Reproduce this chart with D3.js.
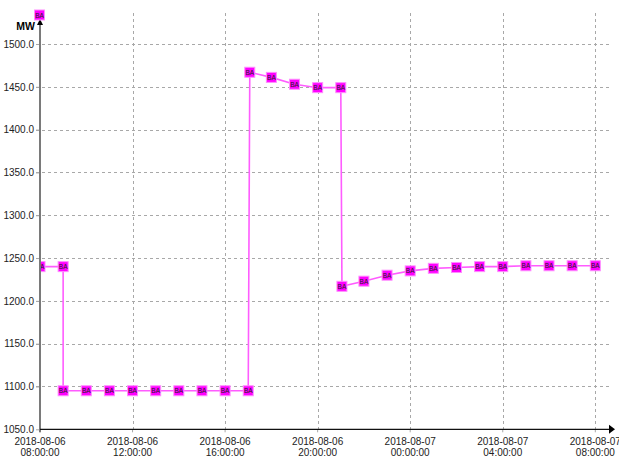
<!DOCTYPE html>
<html>
<head>
<meta charset="utf-8">
<script src="https://cdn.jsdelivr.net/npm/d3@7"></script>
<style>
  html, body { margin: 0; padding: 0; background: #fff; }
  svg { display: block; font-family: "Liberation Sans", Arial, sans-serif; }
</style>
</head>
<body>
<svg id="chart" width="619" height="459"></svg>
<script>
// Load readings (MW), one per timestamp; repeated hours mark step changes
const times = [
  "2018-08-06 08:00", "2018-08-06 09:00", "2018-08-06 09:00", "2018-08-06 10:00",
  "2018-08-06 11:00", "2018-08-06 12:00", "2018-08-06 13:00", "2018-08-06 14:00",
  "2018-08-06 15:00", "2018-08-06 16:00", "2018-08-06 17:00", "2018-08-06 17:04",
  "2018-08-06 18:00", "2018-08-06 19:00", "2018-08-06 20:00", "2018-08-06 21:00",
  "2018-08-06 21:03", "2018-08-06 22:00", "2018-08-06 23:00", "2018-08-07 00:00",
  "2018-08-07 01:00", "2018-08-07 02:00", "2018-08-07 03:00", "2018-08-07 04:00",
  "2018-08-07 05:00", "2018-08-07 06:00", "2018-08-07 07:00", "2018-08-07 08:00"
];
const values = [
  1240, 1240, 1095, 1095,
  1095, 1095, 1095, 1095,
  1095, 1095, 1095, 1467,
  1461, 1453, 1449, 1449,
  1217, 1223, 1230, 1235,
  1238, 1239, 1240, 1240,
  1241, 1241, 1241, 1241
];
const markerLabel = "BA";
const unitLabel = "MW";
const xDomain = ["2018-08-06 08:00", "2018-08-07 08:00"];
const yTicks = [1050, 1100, 1150, 1200, 1250, 1300, 1350, 1400, 1450, 1500];

const parse = d3.utcParse("%Y-%m-%d %H:%M");
const data = times.map((t, i) => ({ t: parse(t), v: values[i] }));

const svg = d3.select("#chart");
const plotLeft = 40, plotRight = 595.3, plotBottom = 429.3, plotTop = 44;

const x = d3.scaleUtc().domain(xDomain.map(parse)).range([plotLeft, plotRight]);
const y = d3.scaleLinear().domain([1050, 1500]).range([plotBottom, plotTop]);
const xTicks = x.ticks(d3.utcHour.every(4));

const gridColor = "#a8a8a8";

// horizontal grid
svg.append("g").selectAll("line").data(yTicks.slice(1)).join("line")
  .attr("x1", plotLeft - 4).attr("x2", 612)
  .attr("y1", d => Math.round(y(d)) + 0.5).attr("y2", d => Math.round(y(d)) + 0.5)
  .attr("stroke", gridColor).attr("stroke-dasharray", "3,3");

// vertical grid
svg.append("g").selectAll("line").data(xTicks.slice(1)).join("line")
  .attr("x1", d => Math.round(x(d)) + 0.5).attr("x2", d => Math.round(x(d)) + 0.5)
  .attr("y1", 13).attr("y2", plotBottom + 3)
  .attr("stroke", gridColor).attr("stroke-dasharray", "3,3");

// y axis labels
const yAxis = d3.axisLeft(y).tickValues(yTicks).tickFormat(d3.format(".1f")).tickSize(4).tickPadding(2);
const gy = svg.append("g").attr("transform", `translate(${plotLeft},0)`).call(yAxis);
gy.select(".domain").remove();
gy.selectAll(".tick line").attr("stroke", gridColor);
gy.selectAll(".tick text").attr("font-size", 10).attr("fill", "#222")
  .attr("font-family", "Liberation Sans, Arial, sans-serif");

// x axis labels (date on the first line, time on the second)
const fDate = d3.utcFormat("%Y-%m-%d"), fTime = d3.utcFormat("%H:%M:%S");
const xl = svg.append("g").selectAll("g").data(xTicks).join("g")
  .attr("transform", d => `translate(${x(d)},0)`);
xl.append("line").attr("y1", plotBottom).attr("y2", plotBottom + 3).attr("stroke", gridColor);
xl.append("text").attr("y", 445).attr("text-anchor", "middle").attr("font-size", 10)
  .attr("fill", "#222").text(d => fDate(d));
xl.append("text").attr("y", 456).attr("text-anchor", "middle").attr("font-size", 10)
  .attr("fill", "#222").text(d => fTime(d));

// axis lines with arrow heads
svg.append("line").attr("x1", plotLeft).attr("x2", plotLeft).attr("y1", 22).attr("y2", plotBottom + 3)
  .attr("stroke", "#7a7a7a").attr("stroke-width", 2);
svg.append("path").attr("d", `M${plotLeft},19 L${plotLeft - 3},25 L${plotLeft + 3},25 Z`).attr("fill", "#000");
svg.append("line").attr("x1", plotLeft).attr("x2", 611).attr("y1", plotBottom).attr("y2", plotBottom)
  .attr("stroke", "#111").attr("stroke-width", 1.3);
svg.append("path").attr("d", `M615,${plotBottom} L609,${plotBottom - 4.5} L609,${plotBottom + 4.5} Z`).attr("fill", "#000");

svg.append("text").attr("x", 35).attr("y", 30).attr("text-anchor", "end")
  .attr("font-size", 10.5).attr("font-weight", "bold").attr("fill", "#000").text(unitLabel);

// series
svg.append("defs").append("clipPath").attr("id", "plot")
  .append("rect").attr("x", plotLeft + 1).attr("y", 0).attr("width", 619 - plotLeft).attr("height", plotBottom);

const plot = svg.append("g").attr("clip-path", "url(#plot)");
plot.append("path").datum(data)
  .attr("d", d3.line().x(d => x(d.t)).y(d => y(d.v)))
  .attr("fill", "none").attr("stroke", "#ff5cff").attr("stroke-width", 1.6);

function marker(g) {
  g.append("rect").attr("x", -5).attr("y", -5).attr("width", 10).attr("height", 10)
    .attr("fill", "#ff00ff").attr("stroke", "#ff8cff").attr("stroke-width", 1);
  g.append("text").attr("y", 2.5).attr("text-anchor", "middle").attr("font-size", 6.5)
    .attr("fill", "#222").text(markerLabel);
}
plot.selectAll("g.m").data(data).join("g").attr("class", "m")
  .attr("transform", d => `translate(${x(d.t)},${y(d.v)})`)
  .call(marker);

// series key marker above the axis
svg.append("g").attr("transform", "translate(39.5,15)").call(marker);
</script>
</body>
</html>
